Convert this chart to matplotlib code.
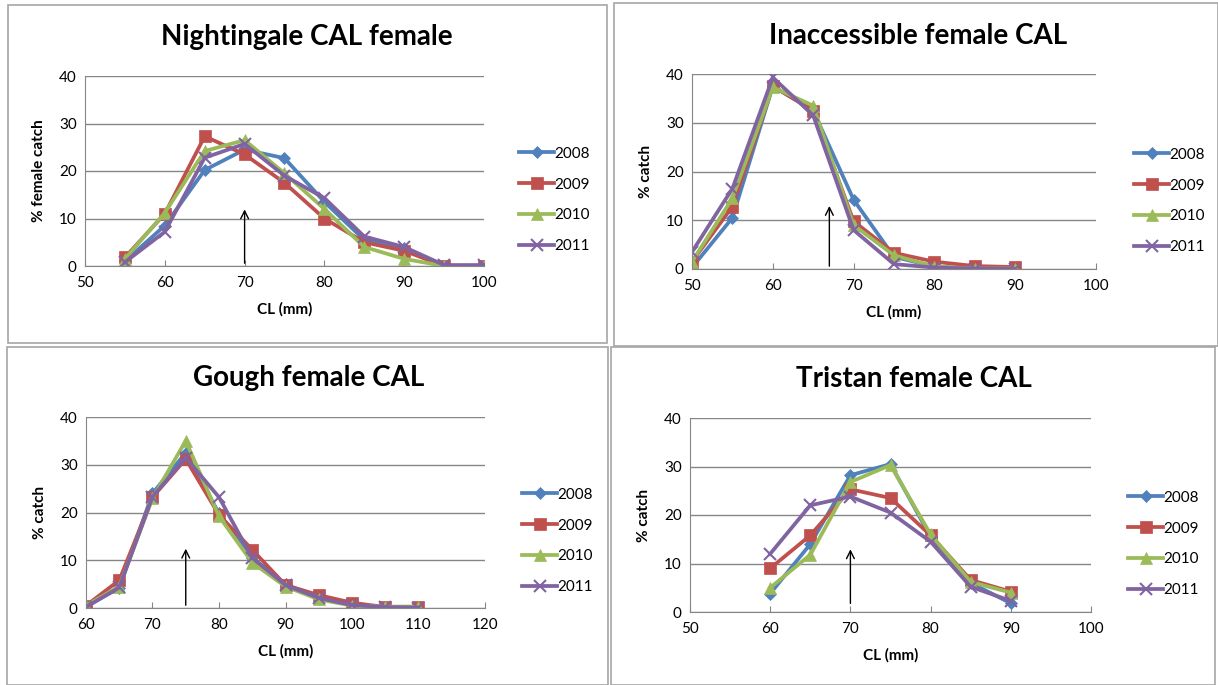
import matplotlib
matplotlib.use('Agg')
import matplotlib.pyplot as plt
from matplotlib.patches import Rectangle

plt.rcParams['font.family'] = ['Lato', 'DejaVu Sans']

W, H = 1218, 685

years = ['2008', '2009', '2010', '2011']
colors = ['#4F81BD', '#C0504D', '#9BBB59', '#8064A2']
markers = ['D', 's', '^', 'x']
msizes = [6, 8, 8, 8]

# Nightingale
night_cl = [55, 60, 65, 70, 75, 80, 85, 90, 95, 100]
night_2008 = [1.0, 8.5, 20.2, 24.5, 22.7, 13.5, 5.5, 3.8, 0.0, 0.0]
night_2009 = [1.8, 11.0, 27.3, 23.5, 17.5, 10.0, 5.0, 3.2, 0.0, 0.0]
night_2010 = [1.5, 11.2, 24.2, 26.5, 19.5, 12.0, 4.0, 1.5, 0.0, 0.0]
night_2011 = [0.8, 7.2, 22.8, 25.7, 19.0, 14.3, 6.2, 4.0, 0.2, 0.2]

# Inaccessible
inac_cl = [50, 55, 60, 65, 70, 75, 80, 85, 90]
inac_2008 = [0.3, 10.5, 37.5, 32.5, 14.2, 2.5, 0.5, 0.1, 0.0]
inac_2009 = [1.5, 12.8, 37.5, 32.5, 9.8, 3.3, 1.5, 0.6, 0.4]
inac_2010 = [1.5, 14.5, 37.3, 33.5, 9.0, 2.8, 0.5, 0.1, 0.1]
inac_2011 = [3.5, 16.5, 39.3, 31.5, 8.0, 1.0, 0.3, 0.1, 0.0]

# Gough
gough_cl = [60, 65, 70, 75, 80, 85, 90, 95, 100, 105, 110]
gough_2008 = [0.3, 4.2, 24.0, 32.5, 19.8, 10.5, 5.0, 2.0, 0.7, 0.2, 0.1]
gough_2009 = [0.5, 5.8, 23.2, 31.2, 19.5, 12.2, 4.8, 2.7, 1.1, 0.2, 0.2]
gough_2010 = [0.5, 4.5, 23.0, 35.0, 19.2, 9.5, 4.5, 1.8, 0.5, 0.3, 0.3]
gough_2011 = [0.2, 4.3, 23.3, 31.5, 23.2, 10.5, 4.8, 2.1, 0.6, 0.2, 0.1]

# Tristan
tris_cl = [60, 65, 70, 75, 80, 85, 90]
tris_2008 = [3.8, 14.0, 28.2, 30.5, 15.5, 6.0, 1.8]
tris_2009 = [9.0, 15.8, 25.3, 23.5, 15.8, 6.6, 4.2]
tris_2010 = [5.0, 11.8, 26.8, 30.3, 16.0, 6.2, 4.0]
tris_2011 = [12.0, 22.0, 23.8, 20.5, 14.5, 5.2, 2.3]

fig = plt.figure(figsize=(W / 100, H / 100), dpi=100)


def px_axes(l, r, t, b):
    return fig.add_axes([l / W, 1 - b / H, (r - l) / W, (b - t) / H])


def panel(box, ax_box, title, title_xy, ylabel, x, series, xlim, arrow_x, arrow_y, leg_xy):
    # chart border
    x0, y0, x1, y1 = box
    fig.add_artist(Rectangle((x0 / W, 1 - y1 / H), (x1 - x0) / W, (y1 - y0) / H,
                             transform=fig.transFigure, fill=False,
                             edgecolor='#a6a6a6', linewidth=1.2))
    ax = px_axes(*ax_box)
    for ys, lab, c, m, ms in zip(series, years, colors, markers, msizes):
        ax.plot(x, ys, color=c, marker=m, markersize=ms, linewidth=2.7,
                markeredgewidth=1.5 if m == 'x' else 0.5, label=lab)
    ax.set_xlim(*xlim)
    ax.set_ylim(0, 40)
    ax.set_xticks(range(xlim[0], xlim[1] + 1, 10))
    ax.set_yticks([0, 10, 20, 30, 40])
    ax.yaxis.grid(True, color='#868686', linewidth=1)
    ax.set_axisbelow(True)
    for s in ['top', 'right']:
        ax.spines[s].set_visible(False)
    for s in ['left', 'bottom']:
        ax.spines[s].set_color('#868686')
    ax.tick_params(axis='both', labelsize=11, color='#868686', length=4)
    ax.tick_params(axis='x', direction='in', pad=7)
    ax.tick_params(axis='y', direction='out', length=0, pad=6)
    ax.set_xlabel('CL (mm)', fontsize=11, fontweight='bold', labelpad=9)
    ax.set_ylabel(ylabel, fontsize=11, fontweight='bold', labelpad=9)
    ax.annotate('', xy=(arrow_x, arrow_y[1]), xytext=(arrow_x, arrow_y[0]),
                arrowprops=dict(arrowstyle='->', color='black', lw=1,
                                mutation_scale=14))
    fig.text(title_xy[0] / W, 1 - title_xy[1] / H, title, fontsize=20,
             fontweight='bold', ha='center', va='center')
    ax.legend(loc='center left', bbox_to_anchor=(leg_xy[0] / W, 1 - leg_xy[1] / H),
              bbox_transform=fig.transFigure, frameon=False, fontsize=11,
              handlelength=2.3, handletextpad=0.0, labelspacing=1.1,
              borderpad=0, borderaxespad=0)
    return ax


panel((8, 5, 607, 343), (85, 484, 76, 266), 'Nightingale CAL female', (307, 37),
      '% female catch', night_cl, [night_2008, night_2009, night_2010, night_2011],
      (50, 100), 70, (0, 12.5), (519, 200))

panel((614, 3, 1218, 346), (692, 1096, 74, 269), 'Inaccessible female CAL', (918, 36),
      '% catch', inac_cl, [inac_2008, inac_2009, inac_2010, inac_2011],
      (50, 100), 67, (0, 13.5), (1134, 201))

panel((7, 347, 608, 685), (86, 485, 417, 608), 'Gough female CAL', (309, 378),
      '% catch', gough_cl, [gough_2008, gough_2009, gough_2010, gough_2011],
      (60, 120), 75, (0, 13), (522, 541))

panel((611, 347, 1215, 685), (690, 1091, 418, 612), 'Tristan female CAL', (914, 379),
      '% catch', tris_cl, [tris_2008, tris_2009, tris_2010, tris_2011],
      (50, 100), 70, (1.2, 13.5), (1128, 544))

fig.savefig('out.png', dpi=100)
